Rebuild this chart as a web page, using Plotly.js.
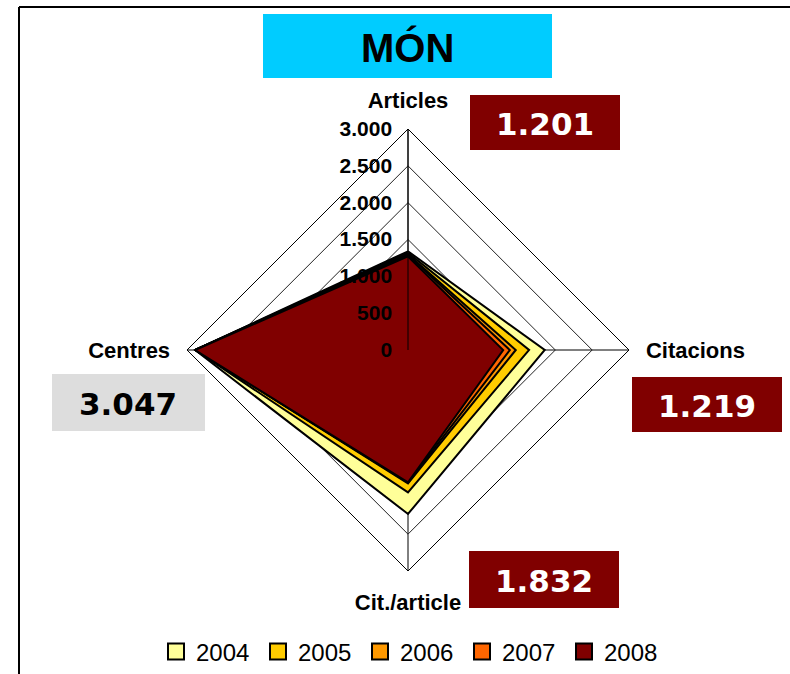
<!DOCTYPE html>
<html>
<head>
<meta charset="utf-8">
<script src="https://cdn.plot.ly/plotly-3.0.1.min.js"></script>
<style>html,body{margin:0;padding:0;background:#fff;}#chart{width:790px;height:674px;}</style>
</head>
<body>
<div id="chart"></div>
<script>
const categories = ["Articles", "Citacions", "Cit./article", "Centres"];
const years = ["2004", "2005", "2006", "2007", "2008"];
const v2004 = [1340, 1856, 2226, 2890];
const v2005 = [1320, 1644, 1932, 2890];
const v2006 = [1300, 1463, 1810, 2890];
const v2007 = [1290, 1382, 1800, 2890];
const v2008 = [1270, 1292, 1797, 2890];
const seriesValues = [v2004, v2005, v2006, v2007, v2008];
const colors = ["#FFFF99", "#FFCC00", "#FF9900", "#FF6600", "#800000"];
const radialTicks = [0, 500, 1000, 1500, 2000, 2500, 3000];
const titleText = "MÓN";
const boxTexts = ["1.201", "3.047", "1.219", "1.832"];

const W = 790, H = 674;
const traces = [];
seriesValues.forEach((vals, i) => {
  traces.push({
    type: "scatterpolar",
    r: vals.concat([vals[0]]),
    theta: categories.concat([categories[0]]),
    mode: "lines",
    fill: "toself",
    fillcolor: colors[i],
    line: {color: "#000", width: 2},
    name: years[i],
    showlegend: false,
    hoverinfo: "skip"
  });
});
years.forEach((y, i) => {
  traces.push({
    type: "scatterpolar",
    r: [null], theta: [null],
    mode: "markers",
    marker: {symbol: "square", size: 16, color: colors[i], line: {color: "#000", width: 2}},
    name: y,
    showlegend: true
  });
});

const cx = 408, cy = 350, R = 221;
const px = x => x / W, py = y => 1 - y / H;

function box(x0, y0, x1, y1, fill) {
  return {type: "rect", xref: "paper", yref: "paper", x0: px(x0), x1: px(x1), y0: py(y1), y1: py(y0),
          fillcolor: fill, line: {width: 0}, layer: "above"};
}
function label(x, y, text, color, size, family) {
  return {xref: "paper", yref: "paper", x: px(x), y: py(y), text: text, showarrow: false,
          xanchor: "center", yanchor: "middle",
          font: {family: family, size: size, color: color}};
}
const valFont = "DejaVu Sans, Verdana, sans-serif";

const layout = {
  width: W, height: H,
  margin: {l: 0, r: 0, t: 0, b: 0, autoexpand: false},
  paper_bgcolor: "#fff",
  separators: ",.",
  showlegend: true,
  legend: {
    orientation: "h", x: px(156), xanchor: "left", y: py(652), yanchor: "middle",
    font: {family: "Liberation Sans, Arial, sans-serif", size: 24, color: "#000"},
    itemwidth: 30, tracegroupgap: 0, bgcolor: "rgba(0,0,0,0)",
    entrywidth: 57, entrywidthmode: "pixels"
  },
  polar: {
    domain: {x: [px(cx - R), px(cx + R)], y: [py(cy + R), py(cy - R)]},
    gridshape: "linear",
    bgcolor: "rgba(0,0,0,0)",
    angularaxis: {
      rotation: 90, direction: "clockwise",
      categoryarray: categories, categoryorder: "array",
      showline: true, linecolor: "#000", linewidth: 1,
      gridcolor: "#000", gridwidth: 1,
      ticks: "outside", ticklen: 12, tickcolor: "rgba(0,0,0,0)",
      tickfont: {family: "Liberation Sans, Arial, sans-serif", size: 22, color: "#000", weight: "bold"}
    },
    radialaxis: {
      range: [0, 3000], tickvals: radialTicks, tickformat: ",d",
      angle: 90, tickangle: 90, side: "counterclockwise",
      showline: true, linecolor: "#000", linewidth: 1,
      gridcolor: "#222", gridwidth: 1,
      ticks: "outside", ticklen: 8, tickcolor: "rgba(0,0,0,0)",
      tickfont: {family: "Liberation Sans, Arial, sans-serif", size: 21, color: "#000", weight: "bold"},
      layer: "above traces"
    }
  },
  shapes: [
    {type: "line", xref: "paper", yref: "paper", x0: px(19), x1: 1.01, y0: py(7), y1: py(7), line: {color: "#000", width: 2}},
    {type: "line", xref: "paper", yref: "paper", x0: px(19), x1: px(19), y0: py(7), y1: -0.01, line: {color: "#000", width: 2}},
    box(263, 14, 552, 78, "#00CCFF"),
    box(470, 95, 620, 150, "#800000"),
    box(52, 374, 205, 431, "#DDDDDD"),
    box(632, 377, 782, 432, "#800000"),
    box(469, 551, 619, 608, "#800000")
  ],
  annotations: [
    label(407, 47, "<b>" + titleText + "</b>", "#000", 40, "Liberation Sans, Arial, sans-serif"),
    label(545, 124, "<b>" + boxTexts[0] + "</b>", "#fff", 31, valFont),
    label(128, 404, "<b>" + boxTexts[1] + "</b>", "#000", 31, valFont),
    label(707, 406, "<b>" + boxTexts[2] + "</b>", "#fff", 31, valFont),
    label(544, 581, "<b>" + boxTexts[3] + "</b>", "#fff", 31, valFont)
  ]
};

Plotly.newPlot("chart", traces, layout, {displayModeBar: false, staticPlot: true});
</script>
</body>
</html>
